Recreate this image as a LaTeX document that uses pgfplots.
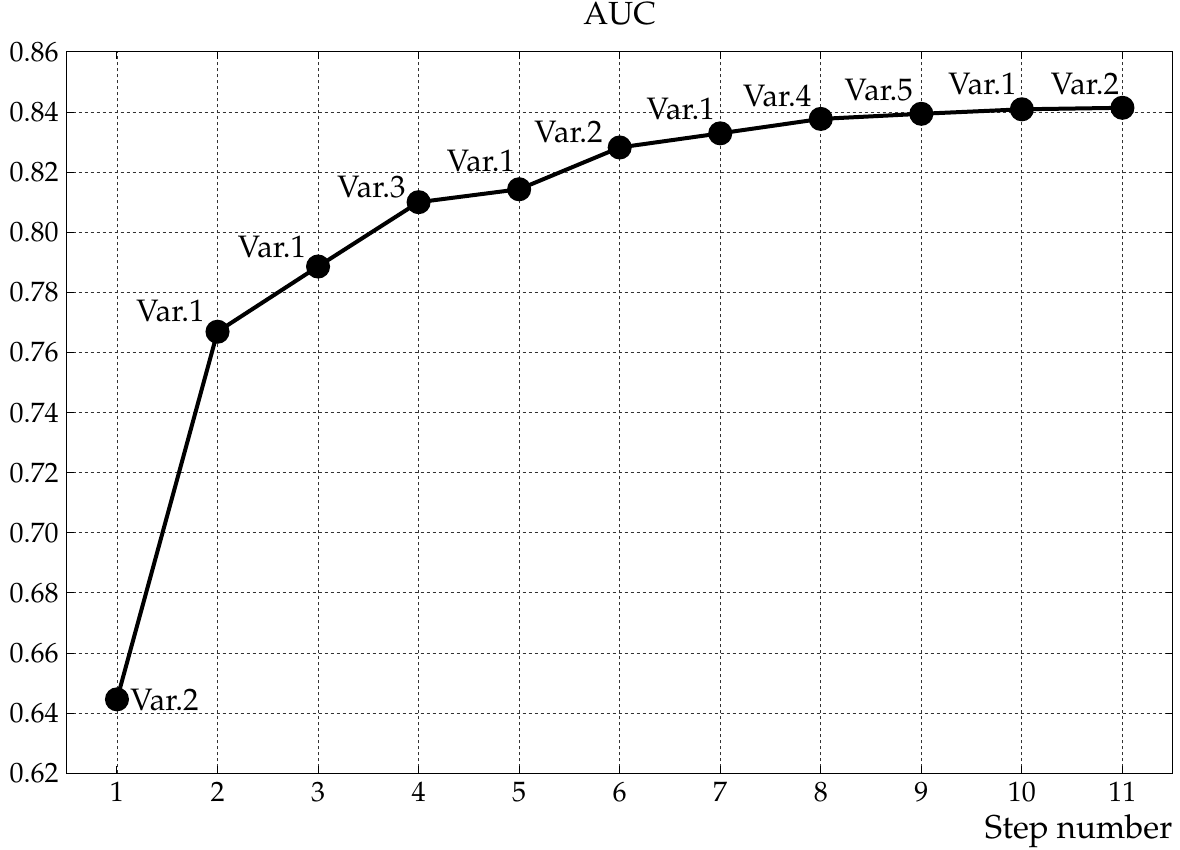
\documentclass[border=0pt]{standalone}
\usepackage[T1]{fontenc}
\usepackage{mathpazo}
\usepackage{pgfplots}
\pgfplotsset{compat=1.18}
\usepackage{pgfplotstable}

% AUC after each selection step
\pgfplotstableread{
step auc
1  0.6446
2  0.7669
3  0.7886
4  0.8100
5  0.8143
6  0.8282
7  0.8329
8  0.8377
9  0.8394
10 0.8409
11 0.8414
}\aucdata

% variable added at each step, with the offset of its label (pt)
\pgfplotstableread{
step auc lab dx dy
1  0.6446 Var.2 6.5 0
}\firstlabel
\pgfplotstableread{
step auc lab dx dy
2  0.7669 Var.1 -6.3 5.0
3  0.7886 Var.1 -5.8 4.3
4  0.8100 Var.3 -6.3 2.0
5  0.8143 Var.1 -1.8 8.5
6  0.8282 Var.2 -8.3 2.3
7  0.8329 Var.1 -2.5 6.5
8  0.8377 Var.4 -4.5 6.0
9  0.8394 Var.5 -4.0 6.0
10 0.8409 Var.1 -2.5 7.0
11 0.8414 Var.2 -1.5 6.5
}\steplabels

\begin{document}
\begin{tikzpicture}
\path (-33.35pt,-38.35pt) rectangle (556.65pt,386.65pt);
\begin{axis}[
  at={(0,0)}, anchor=south west,
  scale only axis, width=553pt, height=360.7pt,
  xmin=0.5, xmax=11.5, ymin=0.62, ymax=0.86,
  xtick={1,2,3,4,5,6,7,8,9,10,11},
  ytick={0.62,0.64,0.66,0.68,0.70,0.72,0.74,0.76,0.78,0.80,0.82,0.84,0.86},
  tick label style={font=\fontsize{14}{16}\selectfont},
  xticklabel style={yshift=-1pt},
  yticklabel style={/pgf/number format/fixed, /pgf/number format/fixed zerofill,
    /pgf/number format/precision=2, xshift=-0.5pt},
  grid=major,
  major grid style={black!80, line width=0.45pt, dash pattern=on 1.5pt off 1.5pt},
  axis line style={black, line width=0.6pt},
  tick align=inside, major tick length=3.5pt,
  tick style={black, line width=0.5pt},
  title={AUC},
  title style={font=\fontsize{16}{18}\selectfont, at={(0.5,1)}, anchor=base,
    inner sep=0pt, yshift=7.5pt},
  xlabel={Step number},
  xlabel style={font=\fontsize{16.5}{18}\selectfont, at={(rel axis cs:1,0)},
    anchor=north east, inner sep=0pt, yshift=-20.5pt},
]
\addplot[black, line width=2pt, mark=*, mark size=5pt, mark options={solid, fill=black}]
  table[x=step, y=auc] {\aucdata};

\addplot[draw=none, mark=none, nodes near coords, point meta=explicit symbolic,
  visualization depends on={\thisrow{dx} \as \dx},
  visualization depends on={\thisrow{dy} \as \dy},
  every node near coord/.append style={anchor=west, inner sep=0pt,
    xshift=\dx pt, yshift=\dy pt, font=\fontsize{15.5}{17}\selectfont}]
  table[x=step, y=auc, meta=lab] {\firstlabel};

\addplot[draw=none, mark=none, nodes near coords, point meta=explicit symbolic,
  visualization depends on={\thisrow{dx} \as \dx},
  visualization depends on={\thisrow{dy} \as \dy},
  every node near coord/.append style={anchor=south east, inner sep=0pt,
    xshift=\dx pt, yshift=\dy pt, font=\fontsize{15.5}{17}\selectfont}]
  table[x=step, y=auc, meta=lab] {\steplabels};
\end{axis}
\end{tikzpicture}
\end{document}
